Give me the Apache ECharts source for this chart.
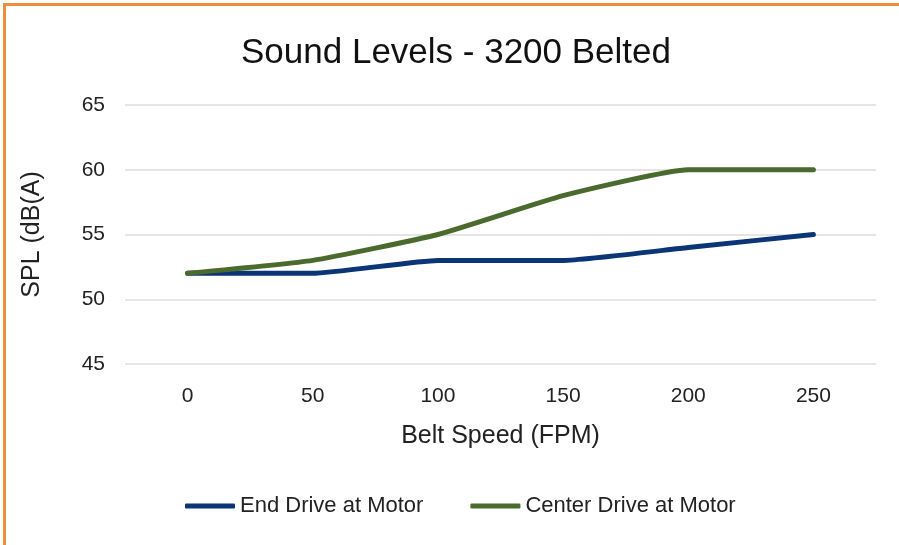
<!DOCTYPE html>
<html><head><meta charset="utf-8">
<script src="https://cdn.jsdelivr.net/npm/echarts@6/dist/echarts.min.js"></script>
<style>html,body{margin:0;padding:0;background:#fff}#c{width:899px;height:545px;position:relative}
#c:before{content:"";position:absolute;left:3px;top:3px;right:0;height:3px;background:#f28c38;z-index:5}
#c:after{content:"";position:absolute;left:3px;top:3px;bottom:0;width:3px;background:#f28c38;z-index:5}</style>
</head><body><div id="c"></div>
<script>
const categories = ['0','50','100','150','200','250'];
const endDrive = [52,52,53,53,54,55];
const centerDrive = [52,53,55,58,60,60];
const seriesNames = ['End Drive at Motor','Center Drive at Motor'];
const chart = echarts.init(document.getElementById('c'));
const F = 'Liberation Sans, Arial, sans-serif';
chart.setOption({
  animation:false,
  title:{text:'Sound Levels - 3200 Belted',left:451,textAlign:'center',top:31,textStyle:{fontFamily:F,fontSize:35,fontWeight:'normal',color:'#111'}},
  legend:{bottom:28,left:185,padding:0,itemWidth:50,itemHeight:5,itemGap:47,icon:'roundRect',textStyle:{fontFamily:F,fontSize:22,color:'#222',padding:[0,0,0,0]},data:seriesNames},
  grid:{left:125,right:23,top:105,bottom:181},
  xAxis:{type:'category',data:categories,boundaryGap:true,name:'Belt Speed (FPM)',nameLocation:'middle',nameGap:60,
    nameTextStyle:{fontFamily:F,fontSize:25,color:'#222'},
    axisLine:{show:false},axisTick:{show:false},axisLabel:{fontFamily:F,fontSize:21,color:'#222',margin:22}},
  yAxis:{type:'value',min:45,max:65,interval:5,name:'SPL (dB(A)',nameLocation:'middle',nameGap:80,
    nameTextStyle:{fontFamily:F,fontSize:25,color:'#222'},
    axisLine:{show:false},axisTick:{show:false},axisLabel:{fontFamily:F,fontSize:21,color:'#222',margin:20,padding:[3,0,0,0]},
    splitLine:{lineStyle:{color:'#dcdcdc',width:1.5}}},
  series:[
    {name:seriesNames[0],type:'line',data:endDrive,symbol:'none',smooth:0.15,lineStyle:{width:5,color:'#0b3576',cap:'round',join:'round'},itemStyle:{color:'#0b3576'}},
    {name:seriesNames[1],type:'line',data:centerDrive,symbol:'none',smooth:0.15,lineStyle:{width:5,color:'#4b6a2d',cap:'round',join:'round'},itemStyle:{color:'#4b6a2d'}}
  ]
});
</script></body></html>
